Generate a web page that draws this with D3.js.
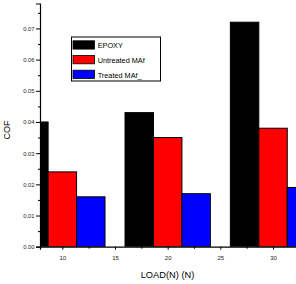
<!DOCTYPE html>
<html>
<head>
<meta charset="utf-8">
<script src="https://cdn.jsdelivr.net/npm/d3@7"></script>
<style>
  body { margin: 0; background: #fff; }
  text { font-family: "Liberation Sans", Arial, sans-serif; }
</style>
</head>
<body>
<script>
// data
var loads = [10, 20, 30];
var series = ["EPOXY", "Untreated MAf", "Treated MAf_"];
var colours = ["#000000", "#ff0000", "#0000ff"];
var epoxy = [0.040, 0.043, 0.072];
var untreated = [0.024, 0.035, 0.038];
var treated = [0.016, 0.017, 0.019];
var yTicks = [0, 0.01, 0.02, 0.03, 0.04, 0.05, 0.06, 0.07];
var xTicks = [10, 15, 20, 25, 30];

var width = 296, height = 284;
var plotLeft = 40, plotBottom = 246.7, plotTop = 3.5;

var values = [epoxy, untreated, treated];

var svg = d3.select("body").append("svg")
	.attr("width", width)
	.attr("height", height);

var x = d3.scaleLinear().domain([7.88, 32.5]).range([plotLeft, plotLeft + 24.62 * 10.535]);
var y = d3.scaleLinear().domain([0, 0.078]).range([plotBottom, plotTop]);
var barW = 2.7; // in load units

svg.append("clipPath").attr("id", "plot")
	.append("rect")
	.attr("x", plotLeft).attr("y", 0)
	.attr("width", width - plotLeft).attr("height", plotBottom);

var bars = svg.append("g").attr("clip-path", "url(#plot)");

series.forEach(function(name, s) {
	bars.append("g")
		.selectAll("rect")
		.data(loads)
		.enter().append("rect")
		.attr("x", function(d) { return x(d + (s - 1.5) * barW); })
		.attr("width", function(d) { return x(d + barW) - x(d); })
		.attr("y", function(d, i) { return y(values[s][i]); })
		.attr("height", function(d, i) { return y(0) - y(values[s][i]); })
		.attr("fill", colours[s])
		.attr("stroke", "#000")
		.attr("stroke-width", 1);
});

// y axis
var yAxis = svg.append("g")
	.attr("transform", "translate(" + plotLeft + ",0)")
	.call(d3.axisLeft(y).tickValues(yTicks).tickFormat(d3.format(".2f")).tickSize(4).tickPadding(1.5));
svg.append("g")
	.attr("transform", "translate(" + plotLeft + ",0)")
	.call(d3.axisLeft(y).tickValues(yTicks.map(function(d) { return d + 0.005; })).tickFormat("").tickSize(2))
	.select(".domain").remove();

// x axis
var xAxis = svg.append("g")
	.attr("transform", "translate(0," + plotBottom + ")")
	.call(d3.axisBottom(x).tickValues(xTicks).tickFormat(d3.format("d")).tickSize(3).tickPadding(6));
svg.append("g")
	.attr("transform", "translate(0," + plotBottom + ")")
	.call(d3.axisBottom(x).tickValues(xTicks.map(function(d) { return d + 2.5; })).tickFormat("").tickSize(2))
	.select(".domain").remove();

svg.selectAll(".domain").attr("stroke-width", 1.2);
yAxis.selectAll("text").attr("font-size", 5.8).attr("fill", "#222");
xAxis.selectAll("text").attr("font-size", 6).attr("fill", "#222");
svg.selectAll(".tick text").style("font-family", "'Liberation Sans', Arial, sans-serif");

// axis titles
svg.append("text")
	.attr("transform", "translate(10,130) rotate(-90)")
	.attr("text-anchor", "middle")
	.attr("font-size", 9)
	.text("COF");

svg.append("text")
	.attr("x", 167.5).attr("y", 278)
	.attr("text-anchor", "middle")
	.attr("font-size", 9.3)
	.text("LOAD(N) (N)");

// legend
var legend = svg.append("g").attr("transform", "translate(71.5,37)");
legend.append("rect")
	.attr("width", 89).attr("height", 44)
	.attr("fill", "#fff").attr("stroke", "#000").attr("stroke-width", 1);

var rows = legend.selectAll("g.row")
	.data(series)
	.enter().append("g")
	.attr("class", "row")
	.attr("transform", function(d, i) { return "translate(1.5," + (3.8 + i * 14.7) + ")"; });

rows.append("rect")
	.attr("width", 21.5).attr("height", 8.3)
	.attr("fill", function(d, i) { return colours[i]; })
	.attr("stroke", "#000").attr("stroke-width", 0.8);

rows.append("text")
	.attr("x", 24.7).attr("y", 7.6)
	.attr("font-size", 7.3)
	.text(function(d) { return d; });
</script>
</body>
</html>
